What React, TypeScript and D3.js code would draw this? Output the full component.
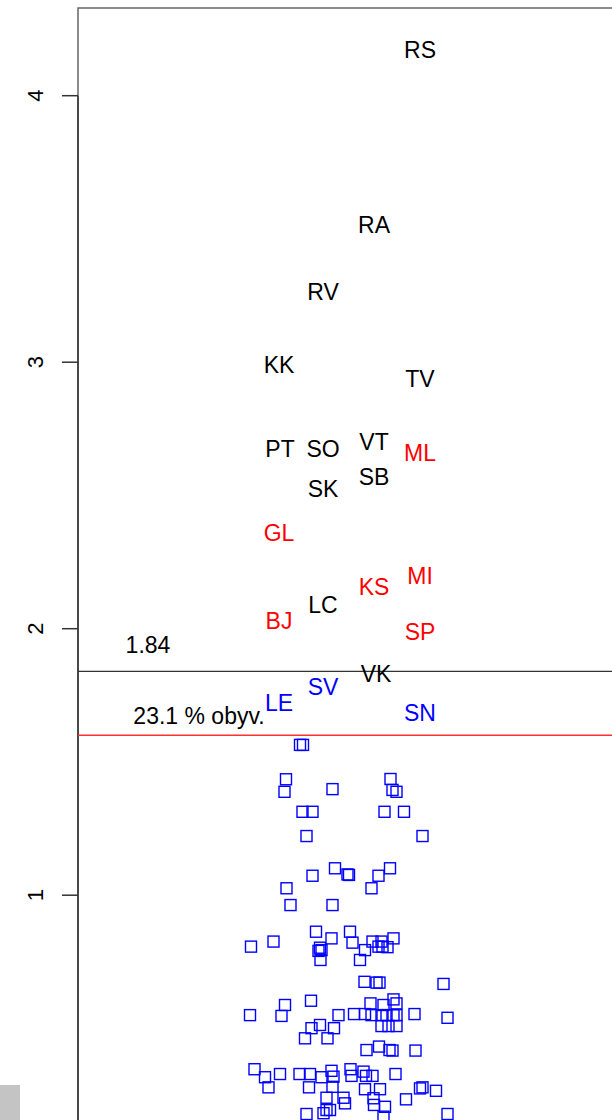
import React from "react";
import * as d3 from "d3";

const yTicks = [1, 2, 3, 4];

const labelNames = ["RS","RA","RV","KK","TV","PT","SO","VT","ML","SB","SK","GL","KS","MI","LC","BJ","SP","VK","SV","LE","SN"];
const labelX = [6.84,5.92,4.90,4.02,6.84,4.04,4.90,5.92,6.84,5.92,4.90,4.02,5.92,6.84,4.90,4.02,6.84,5.96,4.90,4.02,6.84];
const labelY = [4.171,3.515,3.263,2.989,2.937,2.674,2.674,2.701,2.659,2.569,2.524,2.359,2.156,2.198,2.089,2.029,1.988,1.830,1.781,1.721,1.684];
const labelGroup = ["k","k","k","k","k","k","k","k","r","k","k","r","r","r","k","r","r","k","b","b","b"];

const meanValue = 1.84;
const thresholdValue = 1.6;
const meanLabel = "1.84";
const shareLabel = "23.1 % obyv.";
const meanLabelPos = [1.4, 1.939];
const shareLabelPos = [2.42, 1.672];

const pointX = [
  4.44,4.50,4.16,4.13,5.09,6.25,6.29,6.37,4.49,4.69,6.13,6.52,4.57,6.89,
  4.69,5.14,5.39,5.42,6.01,6.24,5.87,4.17,4.25,5.09,4.76,5.07,5.44,5.49,3.91,3.46,4.84,4.81,4.87,4.85,5.64,5.74,5.89,6.07,6.09,6.19,6.31,6.01,
  5.73,5.97,6.03,7.31,4.66,4.14,3.44,4.07,5.21,5.52,5.74,5.85,5.87,6.11,6.31,6.37,6.07,6.17,6.31,6.37,6.07,6.21,6.37,6.73,7.39,
  4.67,4.84,5.12,4.54,4.99,5.77,6.02,6.23,6.29,6.75,3.53,3.74,3.81,4.04,4.43,4.64,4.62,4.87,5.07,5.11,5.09,5.45,5.47,5.71,5.76,5.89,6.35,
  5.74,6.04,6.84,6.89,7.16,6.56,4.97,5.31,5.34,4.97,5.04,4.91,5.91,5.92,6.14,4.57,6.11,7.39
];
const pointY = [
  1.564,1.564,1.435,1.388,1.398,1.436,1.395,1.388,1.313,1.313,1.313,1.313,1.222,1.222,
  1.073,1.101,1.078,1.076,1.073,1.101,1.026,1.026,0.963,0.963,0.863,0.838,0.863,0.822,0.826,0.807,0.803,0.791,0.794,0.757,0.757,0.794,0.826,0.826,0.807,0.805,0.838,0.807,
  0.675,0.672,0.672,0.667,0.604,0.588,0.550,0.547,0.550,0.554,0.554,0.594,0.550,0.588,0.609,0.594,0.550,0.550,0.550,0.550,0.509,0.509,0.509,0.554,0.540,
  0.501,0.513,0.501,0.463,0.463,0.419,0.432,0.419,0.417,0.417,0.347,0.317,0.279,0.329,0.329,0.329,0.279,0.317,0.341,0.319,0.281,0.347,0.322,0.338,0.322,0.322,0.329,
  0.272,0.272,0.275,0.279,0.266,0.234,0.240,0.240,0.219,0.194,0.194,0.182,0.238,0.213,0.206,0.179,0.169,0.179
];

const W = 612;
const H = 1120;
const FONT = "'Liberation Sans', Arial, Helvetica, sans-serif";
const colorFor: Record<string, string> = { k: "#000000", r: "#ff0000", b: "#0000ff" };

export default function App() {
  const x = d3.scaleLinear().domain([0, 10]).range([78, 578]);
  const y = d3.scaleLinear().domain([0, 4]).range([1161.7, 95.7]);
  const left = x(0);
  const top = 8;
  const sq = 11;

  return (
    <svg width={W} height={H} style={{ position: "absolute", left: 0, top: 0, background: "#fff" }}
      fontFamily={FONT}>
      <rect x={0} y={0} width={W} height={H} fill="#fff" />
      {/* plot box */}
      <path d={`M${left},${H + 10} L${left},${top} L${W + 10},${top}`} fill="none" stroke="#666" strokeWidth={1.5} />
      {/* axis */}
      <line x1={left} x2={left} y1={y(4)} y2={H + 10} stroke="#333" strokeWidth={1.5} />
      {yTicks.map((t) => (
        <g key={t}>
          <line x1={left - 16} x2={left} y1={y(t)} y2={y(t)} stroke="#333" strokeWidth={1.5} />
          <text transform={`translate(35,${y(t)}) rotate(-90)`} textAnchor="middle" dy="0.36em"
            fontSize={22} fill="#000">{t}</text>
        </g>
      ))}
      {/* reference lines */}
      <line x1={left} x2={W} y1={y(meanValue)} y2={y(meanValue)} stroke="#333" strokeWidth={1.4} />
      <line x1={left} x2={W} y1={y(thresholdValue)} y2={y(thresholdValue)} stroke="#ff3030" strokeWidth={1.4} />
      <text x={x(meanLabelPos[0])} y={y(meanLabelPos[1])} dy="0.36em" textAnchor="middle" fontSize={23} fill="#000">{meanLabel}</text>
      <text x={x(shareLabelPos[0])} y={y(shareLabelPos[1])} dy="0.36em" textAnchor="middle" fontSize={23} fill="#000">{shareLabel}</text>
      {/* points */}
      {pointX.map((px, i) => (
        <rect key={i} x={x(px) - sq / 2} y={y(pointY[i]) - sq / 2} width={sq} height={sq}
          fill="none" stroke="#0000ff" strokeWidth={1.4} />
      ))}
      {/* labels */}
      {labelNames.map((n, i) => (
        <text key={n} x={x(labelX[i])} y={y(labelY[i])} dy="0.36em" textAnchor="middle" fontSize={23}
          fill={colorFor[labelGroup[i]]}>{n}</text>
      ))}
      <rect x={0} y={1085} width={20} height={35} fill="#c4c4c4" />
    </svg>
  );
}
